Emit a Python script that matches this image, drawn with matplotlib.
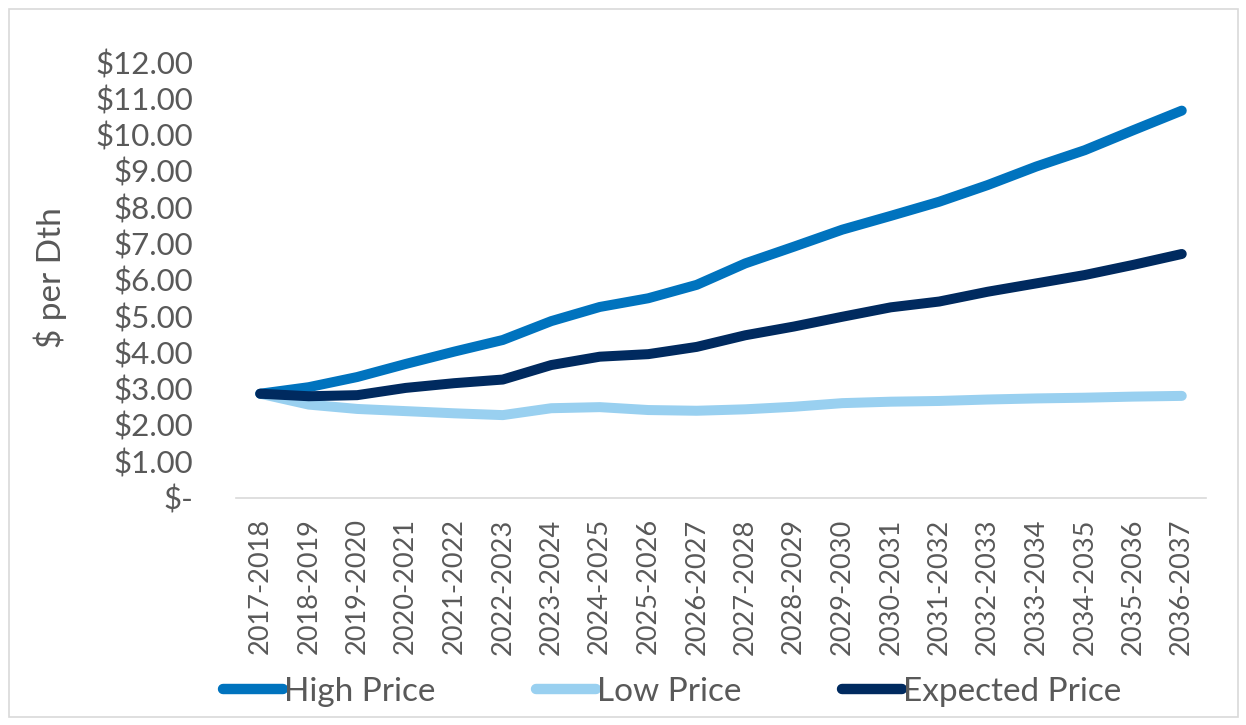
import matplotlib
matplotlib.use("Agg")
import matplotlib.pyplot as plt
from matplotlib.patches import Rectangle

categories = ["2017-2018", "2018-2019", "2019-2020", "2020-2021", "2021-2022",
              "2022-2023", "2023-2024", "2024-2025", "2025-2026", "2026-2027",
              "2027-2028", "2028-2029", "2029-2030", "2030-2031", "2031-2032",
              "2032-2033", "2033-2034", "2034-2035", "2035-2036", "2036-2037"]
high_price = [2.86, 3.04, 3.32, 3.68, 4.02, 4.34, 4.86, 5.25, 5.49, 5.86,
              6.45, 6.91, 7.38, 7.76, 8.15, 8.61, 9.12, 9.57, 10.12, 10.66]
low_price = [2.86, 2.56, 2.44, 2.38, 2.32, 2.27, 2.46, 2.49, 2.41, 2.39,
             2.43, 2.50, 2.60, 2.64, 2.66, 2.70, 2.73, 2.75, 2.78, 2.80]
expected_price = [2.86, 2.79, 2.82, 3.02, 3.15, 3.25, 3.65, 3.88, 3.95, 4.15,
                  4.47, 4.71, 4.98, 5.24, 5.40, 5.67, 5.90, 6.13, 6.41, 6.71]
y_ticks = [0, 1, 2, 3, 4, 5, 6, 7, 8, 9, 10, 11, 12]
y_tick_labels = ["$-", "$1.00", "$2.00", "$3.00", "$4.00", "$5.00", "$6.00",
                 "$7.00", "$8.00", "$9.00", "$10.00", "$11.00", "$12.00"]

plt.rcParams['font.family'] = ['Lato', 'DejaVu Sans']
text_color = '#595959'

fig = plt.figure(figsize=(12.46, 7.25), dpi=100)
ax = fig.add_axes([236/1246, 1 - 497.5/725, (1206-236)/1246, (497.5-62)/725])

lw = 7.2
ax.plot(categories, high_price, color='#0073BE', lw=lw, solid_capstyle='round',
        solid_joinstyle='round', label='High Price', zorder=3)
ax.plot(categories, low_price, color='#99D0F0', lw=lw, solid_capstyle='round',
        solid_joinstyle='round', label='Low Price', zorder=2)
ax.plot(categories, expected_price, color='#002A5F', lw=lw, solid_capstyle='round',
        solid_joinstyle='round', label='Expected Price', zorder=4)

ax.set_ylim(0, 12)
ax.set_xlim(-0.5, len(categories) - 0.5)
ax.set_yticks(y_ticks)
ax.set_yticklabels(y_tick_labels)
ax.tick_params(axis='y', length=0, pad=31, labelsize=22.5, labelcolor=text_color)
ax.tick_params(axis='x', length=0, pad=15, labelsize=19.5, labelcolor=text_color,
               rotation=90)
for s in ['top', 'right', 'left']:
    ax.spines[s].set_visible(False)
ax.spines['bottom'].set_color('#D9D9D9')
ax.spines['bottom'].set_linewidth(1.2)

fig.text(50/1246, 1 - 278/725, '$ per Dth', rotation=90, ha='center', va='center',
         fontsize=24, color=text_color)

leg = fig.legend(loc='center', bbox_to_anchor=(672/1246, 1 - 692/725), ncol=3,
                 frameon=False, fontsize=24, handlelength=1.8, handletextpad=0.05,
                 columnspacing=3.0, labelcolor=text_color)
for h in leg.get_lines():
    h.set_linewidth(7.5)
    h.set_solid_capstyle('round')

fig.add_artist(Rectangle((9/1246, 1 - 717/725), (1238-9)/1246, (717-9)/725,
                         transform=fig.transFigure, fill=False,
                         edgecolor='#D9D9D9', lw=1.2))

fig.savefig('out.png', dpi=100)
